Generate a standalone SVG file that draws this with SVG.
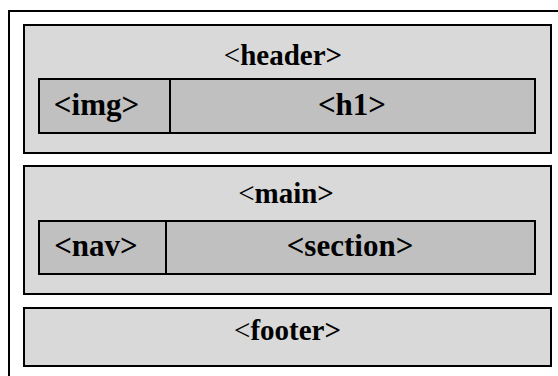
<svg xmlns="http://www.w3.org/2000/svg" width="558" height="376" viewBox="0 0 558 376">
<style>
.box{fill:#d9d9d9;stroke:#000;stroke-width:2}
.inner{fill:#c0c0c0;stroke:#000;stroke-width:2}
.t{font-family:"Liberation Serif","Times New Roman",serif;font-size:29px;text-anchor:middle;fill:#000}
.ti{font-family:"Liberation Serif","Times New Roman",serif;font-size:31px;font-weight:bold;text-anchor:middle;fill:#000}
.b{font-weight:bold}
</style>
<rect x="0" y="0" width="558" height="376" fill="#fff"/>
<g id="page"><path d="M560,11 H9 V378" fill="none" stroke="#000" stroke-width="2"/></g>
<g id="header">
<rect class="box" x="24" y="25" width="527" height="128"/>
<text class="t" x="283" y="65">&lt;<tspan class="b">header&gt;</tspan></text>
</g>
<g id="img">
<rect class="inner" x="39" y="79" width="131" height="54"/>
<text class="ti" x="96.5" y="115">&lt;img&gt;</text>
</g>
<g id="h1">
<rect class="inner" x="170" y="79" width="365" height="54"/>
<text class="ti" x="352" y="115">&lt;h1&gt;</text>
</g>
<g id="main">
<rect class="box" x="24" y="166" width="527" height="128"/>
<text class="t" x="286" y="203">&lt;<tspan class="b">main&gt;</tspan></text>
</g>
<g id="nav">
<rect class="inner" x="39" y="221" width="127" height="53"/>
<text class="ti" x="96" y="256">&lt;nav&gt;</text>
</g>
<g id="section">
<rect class="inner" x="166" y="221" width="369" height="53"/>
<text class="ti" x="350" y="256">&lt;section&gt;</text>
</g>
<g id="footer">
<rect class="box" x="24" y="308" width="527" height="58"/>
<text class="t" x="287.5" y="340">&lt;<tspan class="b">footer&gt;</tspan></text>
</g>
<g id="connectors"></g>
</svg>
